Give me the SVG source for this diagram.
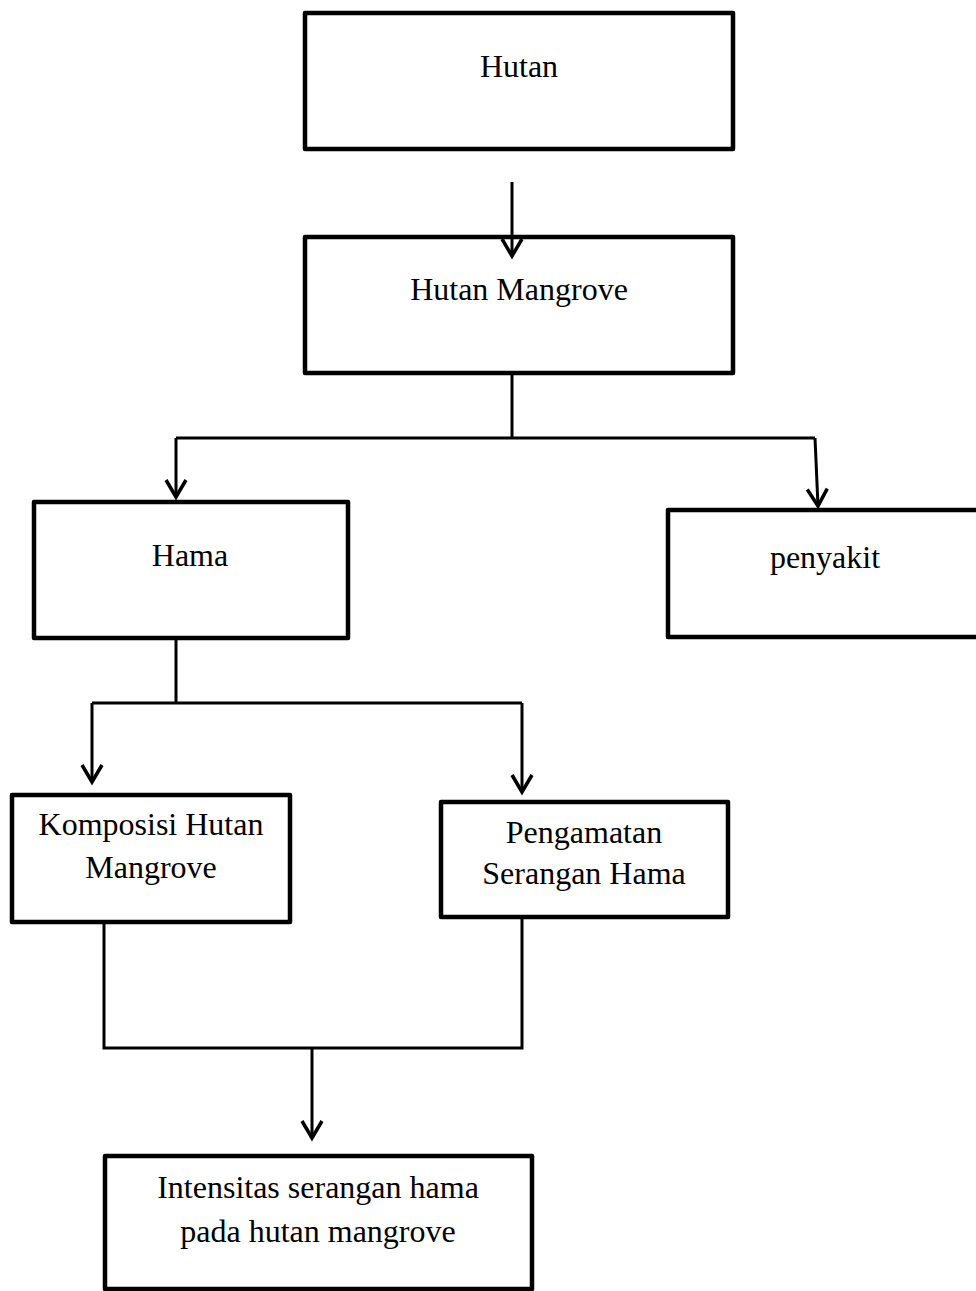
<svg xmlns="http://www.w3.org/2000/svg" width="976" height="1291" viewBox="0 0 976 1291">
<style>
.box{fill:#fff;stroke:#000;stroke-width:4.5;stroke-linejoin:round}
.lbl{font-family:"Liberation Serif","Times New Roman",serif;font-size:32px;fill:#000;text-anchor:middle}
.con{fill:none;stroke:#000;stroke-width:3}
.arr{fill:none;stroke:#000;stroke-width:3.5;stroke-linejoin:miter}
</style>
<defs>
<marker id="ah" markerUnits="userSpaceOnUse" markerWidth="30" markerHeight="30" viewBox="-20 -15 25 30" refX="0" refY="0" orient="auto" overflow="visible">
<path d="M-17,-10 L0,0 L-17,10" fill="none" stroke="#000" stroke-width="3.5"/>
</marker>
</defs>
<rect width="976" height="1291" fill="#fff"/>
<g id="n-hutan"><rect class="box" x="305" y="13" width="428" height="136"/><text class="lbl" x="519" y="77">Hutan</text></g>
<g id="n-hutan-mangrove"><rect class="box" x="305" y="237" width="428" height="136"/><text class="lbl" x="519" y="300">Hutan Mangrove</text></g>
<g id="n-hama"><rect class="box" x="34" y="502" width="314" height="136"/><text class="lbl" x="190" y="566">Hama</text></g>
<g id="n-penyakit"><rect class="box" x="668" y="510" width="330" height="127"/><text class="lbl" x="825" y="568">penyakit</text></g>
<g id="n-komposisi"><rect class="box" x="12" y="795" width="278" height="127"/><text class="lbl" x="151" y="835">Komposisi Hutan</text><text class="lbl" x="151" y="878">Mangrove</text></g>
<g id="n-pengamatan"><rect class="box" x="441" y="802" width="287" height="115"/><text class="lbl" x="584" y="843">Pengamatan</text><text class="lbl" x="584" y="884">Serangan Hama</text></g>
<g id="n-intensitas"><rect class="box" x="105" y="1156" width="427" height="133"/><text class="lbl" x="318" y="1198">Intensitas serangan hama</text><text class="lbl" x="318" y="1242">pada hutan mangrove</text></g>
<g id="connectors">
<path class="con" d="M512,182 L512,256" marker-end="url(#ah)"/>
<path class="con" d="M512,373 L512,438"/>
<path class="con" d="M176,438 L815,438"/>
<path class="con" d="M176,438 L176,497" marker-end="url(#ah)"/>
<path class="con" d="M815,438 L818,506" marker-end="url(#ah)"/>
<path class="con" d="M176,638 L176,703"/>
<path class="con" d="M92,703 L522,703"/>
<path class="con" d="M92,703 L92,782" marker-end="url(#ah)"/>
<path class="con" d="M522,703 L522,792" marker-end="url(#ah)"/>
<path class="con" d="M104,922 L104,1048 L522,1048 L522,917"/>
<path class="con" d="M312,1048 L312,1138" marker-end="url(#ah)"/>
</g>
</svg>
